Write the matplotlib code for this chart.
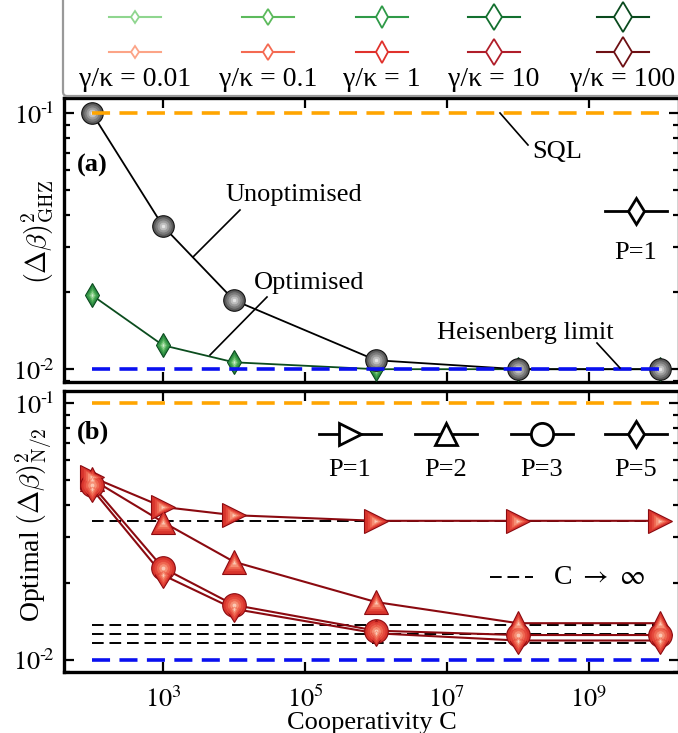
import numpy as np
import matplotlib
matplotlib.use('Agg')
import matplotlib.pyplot as plt
from matplotlib.lines import Line2D
from matplotlib.patches import FancyBboxPatch
from matplotlib.ticker import FixedLocator, NullLocator, LogLocator, NullFormatter

plt.rcParams['font.family'] = ['Liberation Serif', 'DejaVu Serif']
plt.rcParams['mathtext.fontset'] = 'stix'

# data
C = [1e2, 1e3, 1e4, 1e6, 1e8, 1e10]
gamma_kappa = ['0.01', '0.1', '1', '10', '100']

ghz_unopt = [0.1, 0.0362, 0.0186, 0.01084, 0.0100, 0.0100]
ghz_opt = [0.01945, 0.0124, 0.01064, 0.0100, 0.0100, 0.0100]

half_P = [1, 2, 3, 5]
half_vals = {
    1: [0.0515, 0.0394, 0.0366, 0.0348, 0.0348, 0.0348],
    2: [0.0505, 0.0344, 0.0241, 0.0168, 0.0139, 0.0139],
    3: [0.0480, 0.0228, 0.01637, 0.0130, 0.0125, 0.0125],
    5: [0.0463, 0.0214, 0.0158, 0.0127, 0.0119, 0.0119],
}
half_limit = {1: 0.0348, 2: 0.01368, 3: 0.01262, 5: 0.01164}
sql = 0.1
heis = 0.01

markers = {1: '>', 2: '^', 3: 'o', 5: 'd'}
# legend colours (gamma/kappa = 0.01 ... 100)
greens = ['#8fd68f', '#5cba5c', '#2f9a48', '#13702f', '#0a4a1e']
reds = ['#fca487', '#f46a52', '#e0322c', '#b01e2a', '#6e1014']
# shading of the overlapping markers, outer -> inner
green_fill = ['#2a8a40', '#3f9f4e', '#5cb862', '#8fd08f', '#cdeecd']
red_fill = ['#d8342c', '#e4483c', '#ee6650', '#f68e74', '#fcc8b4']
gray_fill = ['#5a5a5a', '#7a7a7a', '#9a9a9a', '#bdbdbd', '#e4e4e4']
layer = [1.0, 0.8, 0.6, 0.4, 0.2]

W, H = 678, 733
fig = plt.figure(figsize=(W / 100, H / 100), dpi=100)


def fx(px):
    return px / W


def fy(py):
    return 1 - py / H


xl = (10 ** 1.606, 10 ** 10.268)
ax1 = fig.add_axes([fx(64), fy(382), (679 - 64) / W, (382 - 98) / H])
ax2 = fig.add_axes([fx(64), fy(672), (679 - 64) / W, (672 - 391) / H])
ax1.set_ylim(10 ** -2.05, 10 ** -0.941)
ax2.set_ylim(10 ** -2.047, 10 ** -0.953)

ylabels = ['$10^{\u2010\\!2}$', '$10^{\u2010\\!1}$']
for ax in (ax1, ax2):
    ax.set_xscale('log')
    ax.set_yscale('log')
    ax.set_xlim(*xl)
    ax.xaxis.set_major_locator(FixedLocator([1e3, 1e5, 1e7, 1e9]))
    ax.xaxis.set_minor_locator(NullLocator())
    ax.yaxis.set_major_locator(FixedLocator([1e-2, 1e-1]))
    ax.yaxis.set_minor_locator(LogLocator(base=10, subs=np.arange(2, 10)))
    ax.yaxis.set_minor_formatter(NullFormatter())
    ax.tick_params(which='both', direction='in', top=True, right=True,
                   width=1.6, labelsize=19)
    ax.tick_params(which='major', length=7, pad=7)
    ax.tick_params(axis='x', which='major', pad=10)
    ax.tick_params(which='minor', length=4.5)
    ax.set_yticklabels(ylabels)
    for s in ax.spines.values():
        s.set_linewidth(2.4)
    ax.hlines(sql, C[0], C[-1], colors='#ffa500', lw=2.6,
              linestyles=(0, (5, 2.6)), zorder=10)
    ax.hlines(heis, C[0], C[-1], colors='#0a10f0', lw=2.6,
              linestyles=(0, (5, 2.6)), zorder=10)

ax1.set_xticklabels([])
ax2.set_xticklabels([r'$10^{3}$', r'$10^{5}$', r'$10^{7}$', r'$10^{9}$'])


def shaded(ax, y, marker, size, fills, edge, z):
    for i in range(5):
        ec = edge if i == 0 else fills[i - 1]
        ax.plot(C, y, ls='none', marker=marker, ms=size * layer[i],
                mfc=fills[i], mec=ec, mew=0.8 if i == 0 else 0.5,
                zorder=z + i * 0.1)


# panel (a)
ax1.plot(C, ghz_opt, color='#0b4d1e', lw=1.3, zorder=3)
shaded(ax1, ghz_opt, 'd', 12, green_fill, '#0a4a1e', 4)
ax1.plot(C, ghz_unopt, color='black', lw=1.3, zorder=5)
shaded(ax1, ghz_unopt, 'o', 15.5, gray_fill, '#111111', 6)

ax1.set_ylabel(r'$(\Delta\beta)^2_{\rm GHZ}$', fontsize=20,
               math_fontfamily='cm')
ax1.yaxis.set_label_coords(-0.014, 0.528)

# panel (b)
for P in half_P:
    ax2.hlines(half_limit[P], C[0], C[-1], colors='black', lw=1.4,
               linestyles=(0, (6, 3)), zorder=2)
for P in half_P:
    ax2.plot(C, half_vals[P], color='#8b0a10', lw=1.5, zorder=3)
    shaded(ax2, half_vals[P], markers[P], 13.5 if P == 5 else 17,
           red_fill, '#8b0a10', 4)

ax2.set_ylabel(r'Optimal $(\Delta\beta)^2_{\rm N/2}$', fontsize=20,
               math_fontfamily='cm')
ax2.yaxis.set_label_coords(-0.016, 0.523)
ax2.set_xlabel('Cooperativity C', fontsize=19, labelpad=0)


def handle(xc, y, half, marker, ms, color, mfc='white', lw=1.6, mew=1.6, ls='-'):
    fig.add_artist(Line2D([fx(xc - half), fx(xc), fx(xc + half)], [fy(y)] * 3,
                          transform=fig.transFigure, color=color, lw=lw, ls=ls,
                          marker=marker, markevery=[1], ms=ms, mfc=mfc,
                          mec=color, mew=mew))


def leader(x0, y0, x1, y1):
    fig.add_artist(Line2D([fx(x0), fx(x1)], [fy(y0), fy(y1)],
                          transform=fig.transFigure, color='black', lw=1.2,
                          zorder=12))


def label(x, y, s, size=19, ha='center', weight='normal'):
    fig.text(fx(x), fy(y), s, ha=ha, va='center', fontsize=size,
             fontweight=weight, zorder=12)


# top legend
fig.add_artist(FancyBboxPatch((fx(63), fy(96)), 1.0, 0.3,
                              boxstyle='round,pad=0,rounding_size=0.006',
                              transform=fig.transFigure, fc='white',
                              ec='#999999', lw=1.6))
leg_x = [135, 268, 382, 494, 623]
leg_ms = [6, 8.5, 11, 13, 15]
for i, g in enumerate(gamma_kappa):
    handle(leg_x[i], 17, 26, 'd', leg_ms[i], greens[i], lw=1.5, mew=1.3)
    handle(leg_x[i], 52, 26, 'd', leg_ms[i], reds[i], lw=1.5, mew=1.3)
    label(leg_x[i], 80, '\u03b3/\u03ba = ' + g, size=20)

# panel (a) annotations
label(77, 165, '(a)', size=19, ha='left', weight='bold')
leader(500, 113, 528, 145)
label(557, 152, 'SQL')
leader(193, 257, 240, 210)
label(294, 195, 'Unoptimised')
leader(210, 355, 267, 297)
label(309, 283, 'Optimised')
leader(620, 368, 597, 343)
label(525, 333, 'Heisenberg limit')
handle(636, 211, 31, 'd', 13.5, 'black', lw=2, mew=2)
label(636, 253, 'P=1')

# panel (b) annotations
label(77, 432, '(b)', size=19, ha='left', weight='bold')
for xc, P in zip([350, 446, 542, 636], half_P):
    handle(xc, 434, 31, markers[P], 13.5 if P == 5 else 16, 'black', lw=2, mew=2)
    label(xc, 470, 'P=%d' % P)
fig.add_artist(Line2D([fx(490), fx(533)], [fy(577)] * 2, transform=fig.transFigure,
                      color='black', lw=1.4, ls=(0, (6, 3))))
label(553, 577, r'C $\rightarrow$ $\infty$', size=20, ha='left')

fig.savefig('out.png', dpi=100)
